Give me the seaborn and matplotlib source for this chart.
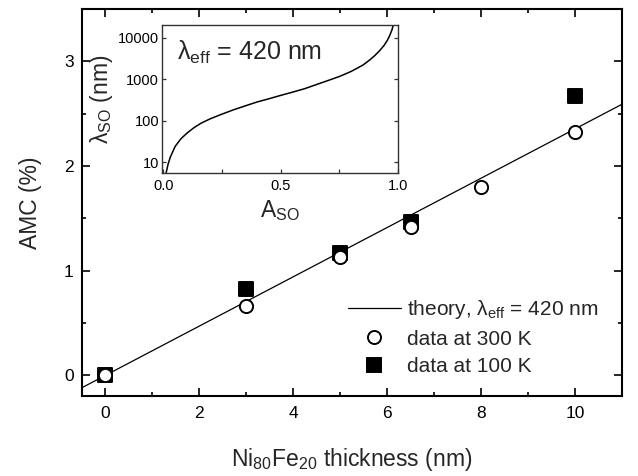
import numpy as np
import pandas as pd
import matplotlib
matplotlib.use('Agg')
import matplotlib.pyplot as plt
from matplotlib.lines import Line2D
from matplotlib.ticker import MultipleLocator, FixedLocator, NullLocator, FixedFormatter
import seaborn as sns


# AMC vs. permalloy thickness
thickness_300 = [0, 3, 5, 6.5, 8, 10]
amc_300 = [0.0, 0.66, 1.13, 1.42, 1.80, 2.32]
thickness_100 = [0, 3, 5, 6.5, 10]
amc_100 = [0.0, 0.82, 1.17, 1.46, 2.67]

# theory line, lambda_eff = 420 nm (read at the axis edges)
theory_x = [-0.5, 11.0]
theory_y = [-0.12, 2.59]

# inset: lambda_SO vs A_SO
a_so = [0.010, 0.020, 0.030, 0.050, 0.075, 0.100, 0.130, 0.160, 0.200, 0.250,
        0.300, 0.350, 0.400, 0.450, 0.500, 0.550, 0.600, 0.650, 0.700, 0.750,
        0.800, 0.850, 0.880, 0.900, 0.920, 0.940, 0.955, 0.965, 0.975, 0.985]
lambda_so = [5.0, 9.0, 13.5, 24, 37, 50, 68, 87, 112, 145,
             185, 230, 285, 340, 410, 490, 590, 740, 930, 1170,
             1550, 2200, 2950, 3700, 4800, 6500, 8800, 11500, 16000, 27000]

df_300 = pd.DataFrame({'t': thickness_300, 'amc': amc_300})
df_100 = pd.DataFrame({'t': thickness_100, 'amc': amc_100})
df_th = pd.DataFrame({'t': theory_x, 'amc': theory_y})
df_in = pd.DataFrame({'A': a_so, 'lam': lambda_so})

sns.set_theme(style='ticks')
plt.rcParams['font.family'] = ['Liberation Sans', 'DejaVu Sans']
plt.rcParams['mathtext.fontset'] = 'custom'
plt.rcParams['mathtext.rm'] = 'Liberation Sans'
plt.rcParams['mathtext.it'] = 'Liberation Sans:italic'
plt.rcParams['mathtext.default'] = 'regular'

fig = plt.figure(figsize=(6.38, 4.76), dpi=100)
ax = fig.add_axes([0.1285, 0.168, 0.8465, 0.813])

# Main plot
sns.lineplot(data=df_th, x='t', y='amc', color='black', lw=0.9, ax=ax, zorder=2)
sns.scatterplot(data=df_100, x='t', y='amc', marker='s', s=90, color='black',
                edgecolor='black', linewidth=1.4, ax=ax, zorder=3)
sns.scatterplot(data=df_300, x='t', y='amc', marker='o', s=90, color='white',
                edgecolor='black', linewidth=1.4, ax=ax, zorder=4)

ax.set_xlim(-0.5, 11)
ax.set_ylim(-0.2, 3.5)
ax.xaxis.set_major_locator(MultipleLocator(2))
ax.xaxis.set_minor_locator(MultipleLocator(1))
ax.yaxis.set_major_locator(MultipleLocator(1))
ax.yaxis.set_minor_locator(MultipleLocator(0.5))
ax.tick_params(which='both', direction='in', top=True, right=True, width=1.2, colors='black')
ax.tick_params(which='major', length=5.5, labelsize=12.5)
ax.tick_params(which='minor', length=3)
ax.tick_params(axis='x', pad=7)
ax.tick_params(axis='y', pad=6)
for sp in ax.spines.values():
    sp.set_linewidth(1.5)
    sp.set_color('black')
ax.set_xlabel('Ni$_{80}$Fe$_{20}$ thickness (nm)', fontsize=16.5, labelpad=18)
ax.set_ylabel('AMC (%)', fontsize=16.5, labelpad=16)

handles = [Line2D([], [], color='black', lw=0.9),
           Line2D([], [], marker='o', ls='', mfc='white', mec='black', ms=9.4, mew=1.4),
           Line2D([], [], marker='s', ls='', mfc='black', mec='black', ms=9.4, mew=1.4)]
labels = ['theory, λ$_{eff}$ = 420 nm', 'data at 300 K', 'data at 100 K']
ax.legend(handles, labels, loc='center left', bbox_to_anchor=(0.492, 0.1525),
          frameon=False, fontsize=15, borderpad=0, borderaxespad=0,
          handlelength=2.57, handletextpad=0.3, labelspacing=0.4)

# Inset
axin = fig.add_axes([0.2539, 0.6359, 0.3699, 0.3116])
sns.lineplot(data=df_in, x='A', y='lam', color='black', lw=1.1, ax=axin, sort=False)
axin.set_yscale('log')
axin.set_xlim(-0.006, 1.0)
axin.set_ylim(5.4, 20500)
axin.yaxis.set_major_locator(FixedLocator([10, 100, 1000, 10000]))
axin.yaxis.set_major_formatter(FixedFormatter(['10', '100', '1000', '10000']))
axin.yaxis.set_minor_locator(NullLocator())
axin.xaxis.set_major_locator(FixedLocator([0.0, 0.5, 1.0]))
axin.xaxis.set_major_formatter(FixedFormatter(['0.0', '0.5', '1.0']))
axin.xaxis.set_minor_locator(FixedLocator([0.25, 0.75]))
axin.tick_params(which='both', direction='in', right=True, length=3, width=0.9,
                 colors='#333333', labelcolor='black', labelsize=10.5)
axin.tick_params(axis='y', pad=2)
axin.tick_params(axis='x', pad=4)
for sp in axin.spines.values():
    sp.set_linewidth(1.0)
    sp.set_color('#333333')
axin.set_xlabel('A$_{SO}$', fontsize=16.5, labelpad=4)
axin.set_ylabel('λ$_{SO}$ (nm)', fontsize=16.5, labelpad=2)
axin.text(0.065, 0.766, 'λ$_{eff}$ = 420 nm', transform=axin.transAxes,
          fontsize=18, va='baseline', ha='left')

fig.savefig('out.png', dpi=100)
